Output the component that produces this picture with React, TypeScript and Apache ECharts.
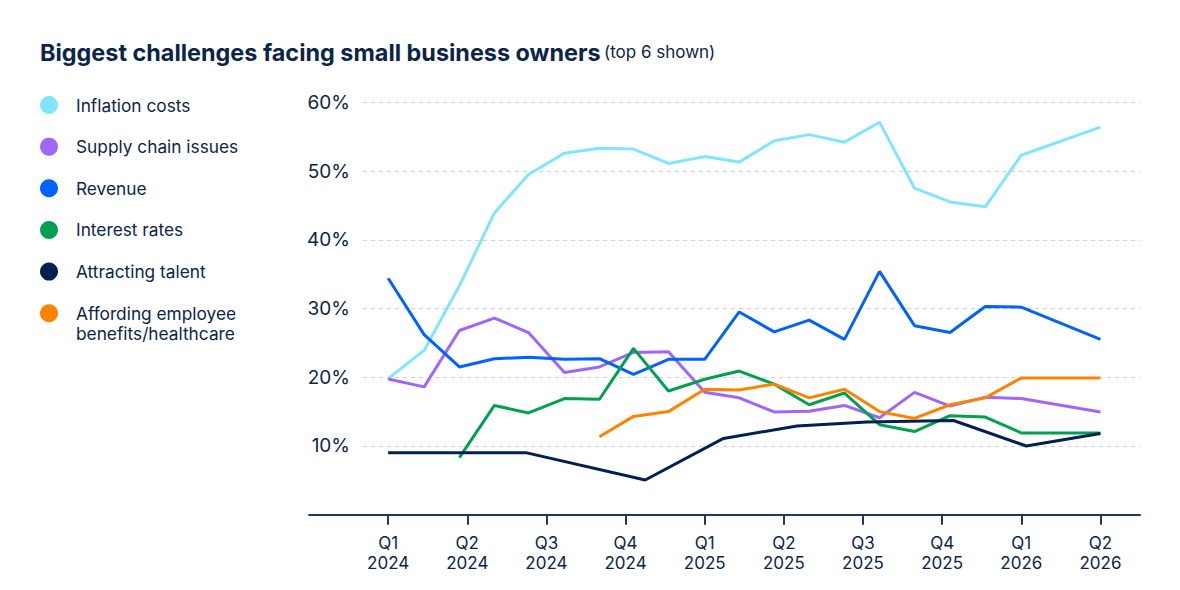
import React, { useEffect, useRef } from "react";
import * as echarts from "echarts";

const quarterLabels = [
  "Q1\n2024", "Q2\n2024", "Q3\n2024", "Q4\n2024",
  "Q1\n2025", "Q2\n2025", "Q3\n2025", "Q4\n2025",
  "Q1\n2026", "Q2\n2026",
];
const yTicks = [10, 20, 30, 40, 50, 60];

// survey timing, in quarters since Q1 2024
const surveyT = [0, 0.455, 0.9, 1.343, 1.773, 2.228, 2.67, 3.1, 3.542, 4.0, 4.436, 4.878, 5.32, 5.766, 6.209, 6.651, 7.1, 7.545, 8.0, 9.0];
const talentT = [0, 0.9, 1.753, 3.248, 4.237, 5.165, 6.05, 7.144, 8.063, 9.0];

const inflation = [19.8, 23.9, 33.3, 43.9, 49.5, 52.6, 53.3, 53.2, 51.1, 52.1, 51.3, 54.4, 55.3, 54.2, 57.1, 47.5, 45.5, 44.8, 52.3, 56.4];
const supplyChain = [19.75, 18.6, 26.8, 28.6, 26.5, 20.7, 21.5, 23.6, 23.7, 17.8, 17.0, 14.95, 15.05, 15.9, 14.1, 17.8, 15.8, 17.1, 16.9, 14.95];
const revenue = [34.4, 26.2, 21.5, 22.7, 22.9, 22.6, 22.7, 20.4, 22.6, 22.6, 29.5, 26.6, 28.3, 25.5, 35.4, 27.5, 26.5, 30.3, 30.2, 25.5];
const interestRates = [null, null, 8.3, 15.9, 14.8, 16.9, 16.8, 24.2, 18.0, 19.7, 20.9, 19.0, 16.0, 17.7, 13.1, 12.1, 14.4, 14.2, 11.9, 11.9];
const talent = [9.0, 9.0, 9.0, 5.05, 11.1, 12.9, 13.5, 13.7, 10.0, 11.8];
const benefits = [null, null, null, null, null, null, 11.35, 14.3, 15.0, 18.25, 18.15, 19.0, 17.0, 18.25, 15.0, 14.0, 16.0, 17.0, 19.9, 19.9];

const seriesNames = [
  "Inflation costs",
  "Supply chain issues",
  "Revenue",
  "Interest rates",
  "Attracting talent",
  "Affording employee\nbenefits/healthcare",
];
const seriesColors = ["#80E6FF", "#A066FA", "#0062FF", "#00A050", "#002050", "#FF8300"];
const seriesValues = [inflation, supplyChain, revenue, interestRates, talent, benefits];
const seriesTimes = [surveyT, surveyT, surveyT, surveyT, talentT, surveyT];

const TEXT = "#0B2549";
const FONT = "Inter, 'Noto Sans', sans-serif";

export default function App() {
  const ref = useRef<HTMLDivElement>(null);

  useEffect(() => {
    document.body.style.margin = "0";
    const chart = echarts.init(ref.current!, null, { renderer: "svg" });

    const series = seriesValues.map((vals, i) => ({
      name: seriesNames[i],
      type: "line",
      xAxisIndex: 0,
      yAxisIndex: 0,
      showSymbol: false,
      symbol: "none",
      data: vals.map((v, j) => [seriesTimes[i][j], v]),
      lineStyle: { width: 3, color: seriesColors[i] },
      itemStyle: { color: seriesColors[i] },
      z: 2 + i,
    }));

    const legendGraphics: any[] = [];
    seriesNames.forEach((name, i) => {
      const cy = 105 + 41.65 * i;
      legendGraphics.push({
        type: "circle",
        shape: { cx: 49, cy, r: 9 },
        style: { fill: seriesColors[i] },
      });
      const multi = name.includes("\n");
      legendGraphics.push({
        type: "text",
        x: 76,
        y: multi ? cy - 10 : cy,
        style: {
          text: name,
          fill: TEXT,
          font: `17.3px ${FONT}`,
          lineHeight: 20,
          verticalAlign: multi ? "top" : "middle",
          align: "left",
        },
      });
    });

    chart.setOption({
      animation: false,
      textStyle: { fontFamily: FONT },
      grid: [
        { left: 309, right: 40, top: 102.3, bottom: 75.3 },
        { left: 363, right: 40, top: 102.3, bottom: 75.3 },
      ],
      xAxis: [
        {
          type: "value",
          gridIndex: 0,
          min: -1,
          max: 9.5,
          interval: 1,
          z: 10,
          axisLine: { show: true, lineStyle: { color: "#1F3A5C", width: 2 } },
          axisTick: {
            show: true,
            length: 10,
            customValues: quarterLabels.map((_, i) => i),
            lineStyle: { color: "#1F3A5C", width: 2 },
          },
          axisLabel: {
            customValues: quarterLabels.map((_, i) => i),
            formatter: (v: number) => quarterLabels[Math.round(v)] ?? "",
            color: TEXT,
            fontSize: 17,
            lineHeight: 20,
            margin: 18,
            fontFamily: FONT,
          },
          splitLine: { show: false },
        },
        {
          type: "value",
          gridIndex: 1,
          min: 0,
          max: 1,
          show: false,
        },
      ],
      yAxis: [
        {
          type: "value",
          gridIndex: 0,
          min: 0,
          max: 60,
          interval: 10,
          axisLine: { show: false },
          axisTick: { show: false },
          axisLabel: { show: false },
          splitLine: { show: false },
        },
        {
          type: "value",
          gridIndex: 1,
          min: 0,
          max: 60,
          interval: 10,
          axisLine: { show: false },
          axisTick: { show: false },
          axisLabel: {
            customValues: yTicks,
            formatter: (v: number) => `${v}%`,
            color: TEXT,
            fontSize: 19,
            margin: 13,
            fontFamily: FONT,
          },
          splitLine: {
            show: true,
            lineStyle: { color: "#C9D1DB", width: 1, type: [4, 4] },
          },
        },
      ],
      graphic: [
        {
          type: "text",
          x: 40,
          y: 52,
          style: {
            text: "{a|Biggest challenges facing small business owners} {b|(top 6 shown)}",
            verticalAlign: "middle",
            rich: {
              a: { fontSize: 23.4, fontWeight: "bold", fill: TEXT, fontFamily: FONT },
              b: { fontSize: 17, fill: TEXT, fontFamily: FONT },
            },
          },
        },
        ...legendGraphics,
      ],
      series,
    });

    return () => chart.dispose();
  }, []);

  return <div ref={ref} style={{ width: 1180, height: 590 }} />;
}
